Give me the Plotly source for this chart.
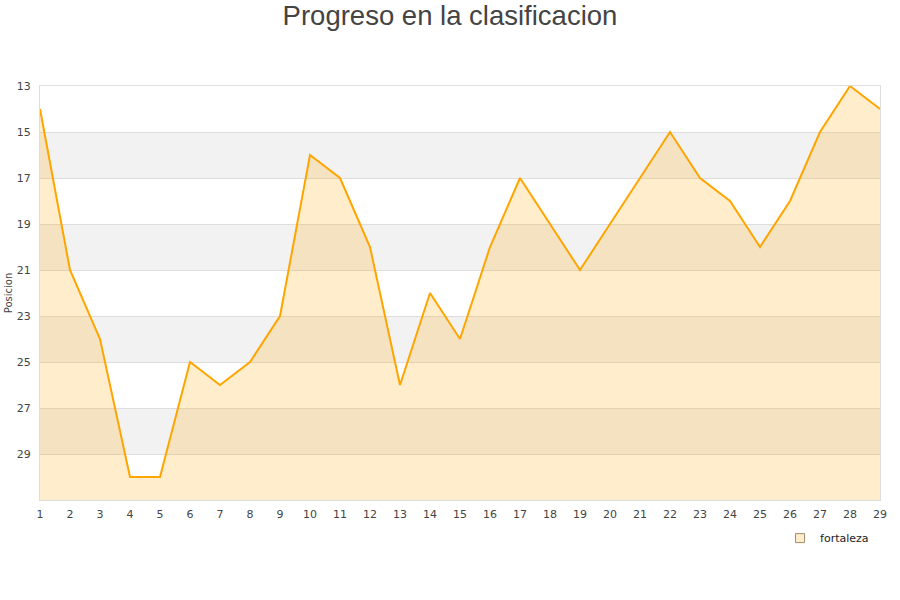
import plotly.graph_objects as go

jornadas = list(range(1, 30))
posiciones = [14, 21, 24, 30, 30, 25, 26, 25, 23, 16, 17, 20, 26, 22, 24, 20, 17, 19, 21, 19, 17, 15, 17, 18, 20, 18, 15, 13, 14]
y_ticks = [13, 15, 17, 19, 21, 23, 25, 27, 29]
bands = [(15, 17), (19, 21), (23, 25), (27, 29)]
team = "fortaleza"

fig = go.Figure()
fig.add_trace(go.Scatter(
    x=jornadas, y=[31] * len(jornadas), mode="lines", line=dict(width=0),
    showlegend=False, hoverinfo="skip"))
fig.add_trace(go.Scatter(
    x=jornadas, y=posiciones, mode="lines", name=team,
    line=dict(color="#FFA500", width=2), fill="tonexty",
    fillcolor="rgba(255,165,0,0.2)", showlegend=False))
fig.add_trace(go.Scatter(
    x=[None], y=[None], mode="markers", name=team,
    marker=dict(symbol="square", size=9, color="#FFEDCC",
                line=dict(color="#a08c6a", width=1))))

shapes = []
for a, b in bands:
    shapes.append(dict(type="rect", xref="paper", yref="y", x0=0, x1=1, y0=a, y1=b,
                       fillcolor="#f2f2f2", line=dict(width=0), layer="below"))

fig.update_layout(
    width=900, height=600,
    paper_bgcolor="white", plot_bgcolor="white",
    margin=dict(l=40, r=20, t=86, b=100),
    title=dict(text="Progreso en la clasificacion", x=0.5, xanchor="center", y=0.975, yanchor="middle",
               font=dict(family="Liberation Sans, Arial", size=27.5, color="#444")),
    font=dict(family="DejaVu Sans", size=11, color="#444"),
    shapes=shapes,
    showlegend=True,
    legend=dict(x=0.881, y=-0.057, xanchor="left", yanchor="top", bgcolor="rgba(0,0,0,0)",
                font=dict(family="DejaVu Sans", size=11, color="#222")),
)
fig.update_xaxes(range=[1, 29], tickmode="array", tickvals=jornadas, ticks="", showgrid=False,
                 showline=True, linecolor="#ddd", zeroline=False, mirror=True, automargin=False,
                 ticklabelstandoff=4, tickfont=dict(size=11, color="#444"))
fig.update_yaxes(range=[31, 13], tickmode="array", tickvals=y_ticks, showgrid=True,
                 gridcolor="#dddddd", showline=True, linecolor="#ddd", mirror=True, zeroline=False,
                 ticks="", tickfont=dict(size=11, color="#444"), automargin=False,
                 ticklabelstandoff=6,
                 title=dict(text="Posicion", font=dict(size=10, color="#444"), standoff=2))

fig.write_html("out.html", config={"displayModeBar": False},
               post_script="document.body.style.margin='0';document.body.style.padding='0';")
